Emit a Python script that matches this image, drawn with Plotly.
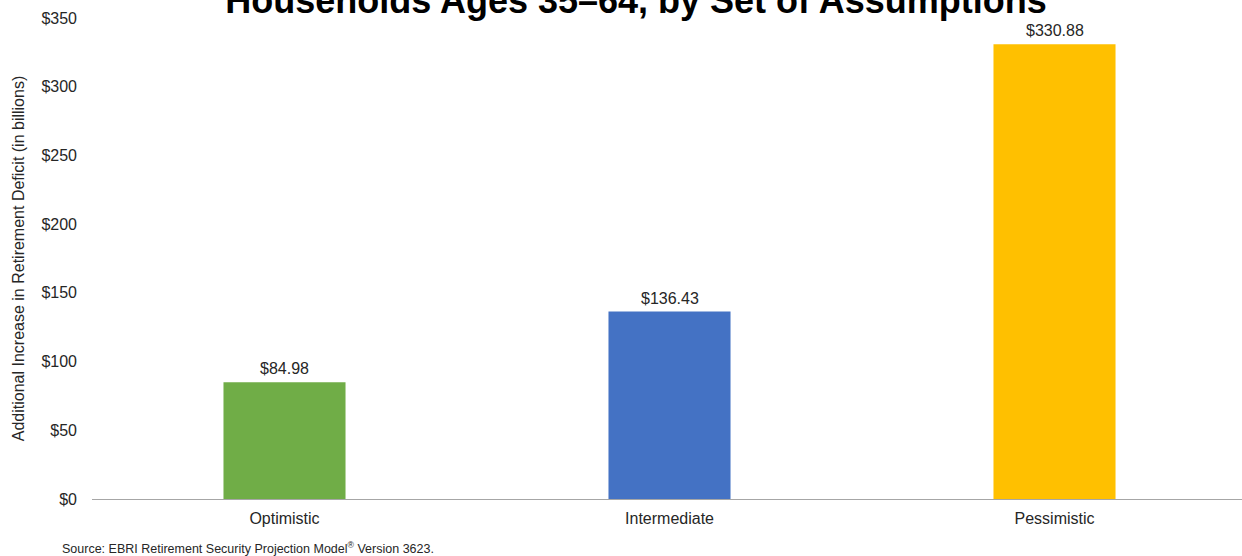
import plotly.graph_objects as go

categories = ["Optimistic", "Intermediate", "Pessimistic"]
values = [84.98, 136.43, 330.88]
colors = ["#70AD47", "#4472C4", "#FFC000"]
labels = ["$84.98", "$136.43", "$330.88"]
title_text = "Households Ages 35\u201364, by Set of Assumptions"
y_title = "Additional Increase in Retirement Deficit (in billions)"
source_text = "Source: EBRI Retirement Security Projection Model<sup>\u00ae</sup> Version 3623."

FONT = "Liberation Sans, Arial, sans-serif"

fig = go.Figure(go.Bar(
    x=categories, y=values,
    marker=dict(color=colors, line=dict(width=0)),
    width=0.317,
))

label_annotations = [
    dict(x=c, y=v, text=t, xref="x", yref="y", showarrow=False,
         yanchor="bottom", xanchor="center", yshift=3,
         font=dict(family=FONT, size=16, color="#262626"))
    for c, v, t in zip(categories, values, labels)
]

fig.update_layout(
    width=1242, height=556,
    margin=dict(l=92, r=0, t=18, b=57),
    paper_bgcolor="white", plot_bgcolor="white",
    showlegend=False,
    font=dict(family=FONT, size=16, color="#262626"),
    title=dict(text="<b>" + title_text + "</b>", x=636 / 1242, xanchor="center",
               y=1 - 13 / 556, yanchor="bottom", yref="container",
               font=dict(family=FONT, size=36, color="#000000")),
    xaxis=dict(showline=True, linecolor="#A6A6A6", linewidth=1, ticks="",
               range=[-0.5, 2.487], automargin=False, ticklabelstandoff=5,
               tickfont=dict(size=16, color="#262626"), showgrid=False),
    yaxis=dict(range=[0, 350], dtick=50, tickprefix="$", showgrid=False,
               zeroline=False, showline=False, ticks="", automargin=False,
               ticklabelstandoff=14,
               tickfont=dict(size=16, color="#262626"),
               title=dict(text=y_title, standoff=12,
                          font=dict(size=16, color="#262626"))),
    annotations=label_annotations + [
        dict(text=source_text, xref="paper", yref="paper",
             x=(60 - 92) / 1150, y=-(548 - 499) / 481, xanchor="left",
             yanchor="middle", showarrow=False,
             font=dict(size=12.5, color="#262626"))],
)

fig.write_html("out.html", config={"displayModeBar": False},
               post_script="document.body.style.margin='0';document.body.style.overflow='hidden';")
